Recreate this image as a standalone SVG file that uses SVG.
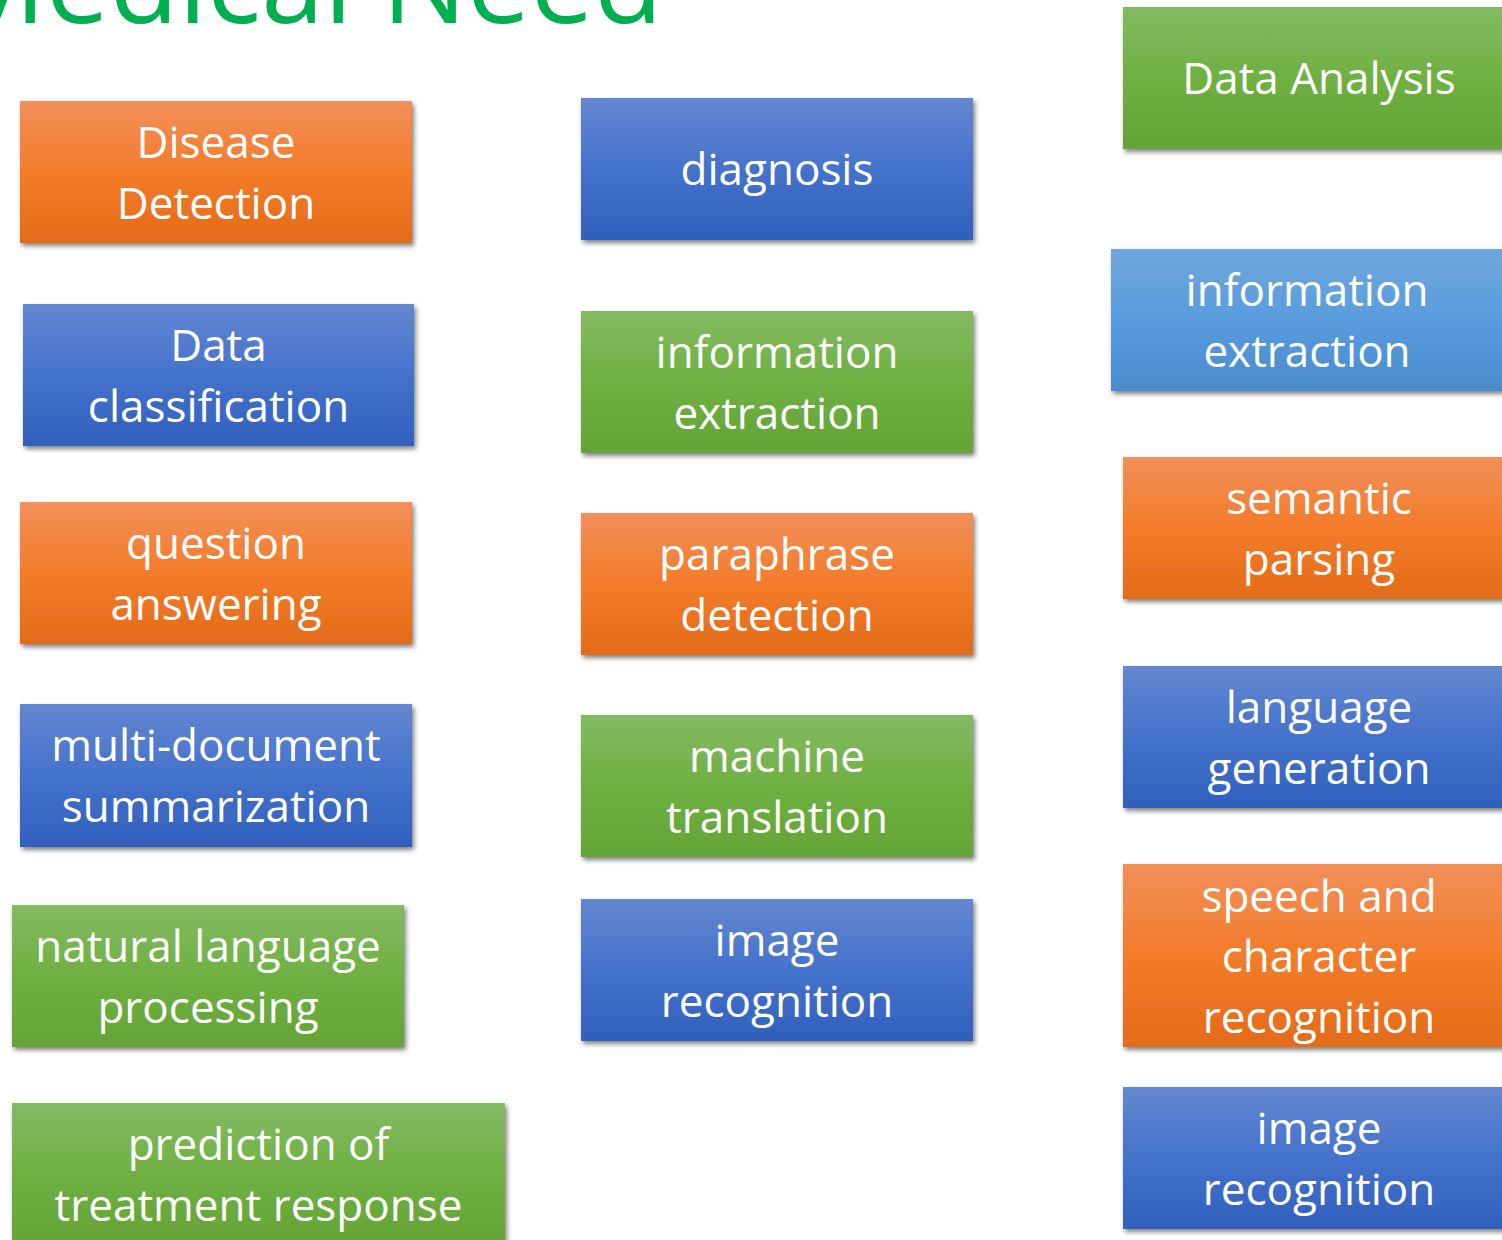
<svg xmlns="http://www.w3.org/2000/svg" width="1502" height="1240" viewBox="0 0 1502 1240">
  <style>
    .title { font-family: "Open Sans", "Liberation Sans", sans-serif; font-size: 113px; fill: #00B050; }
    .box { filter: url(#shadow); }
    .lbl { font-family: "Open Sans", "Liberation Sans", sans-serif; font-size: 44px; fill: #FFFFFF; text-anchor: middle; }
    .orange { fill: url(#gOrange); }
    .blue { fill: url(#gBlue); }
    .green { fill: url(#gGreen); }
    .lblue { fill: url(#gLightBlue); }
  </style>
  <defs>
    <linearGradient id="gOrange" x1="0" y1="0" x2="0" y2="1">
      <stop offset="0" stop-color="#F28F5A"/>
      <stop offset="0.5" stop-color="#F37C2A"/>
      <stop offset="1" stop-color="#E36B19"/>
    </linearGradient>
    <linearGradient id="gBlue" x1="0" y1="0" x2="0" y2="1">
      <stop offset="0" stop-color="#6487D0"/>
      <stop offset="0.5" stop-color="#4472CB"/>
      <stop offset="1" stop-color="#3060BC"/>
    </linearGradient>
    <linearGradient id="gGreen" x1="0" y1="0" x2="0" y2="1">
      <stop offset="0" stop-color="#84BA63"/>
      <stop offset="0.5" stop-color="#6FB042"/>
      <stop offset="1" stop-color="#64A436"/>
    </linearGradient>
    <linearGradient id="gLightBlue" x1="0" y1="0" x2="0" y2="1">
      <stop offset="0" stop-color="#72A7DC"/>
      <stop offset="0.5" stop-color="#589CDE"/>
      <stop offset="1" stop-color="#4A8BCB"/>
    </linearGradient>
    <filter id="shadow" x="-10%" y="-10%" width="120%" height="130%">
      <feDropShadow dx="2" dy="3" stdDeviation="2.5" flood-color="#000000" flood-opacity="0.5"/>
    </filter>
  </defs>

  <!-- heading, partly above the top edge -->
  <text class="title" x="663" y="23" text-anchor="end">Medical Need</text>

  <!-- no connectors between the task boxes -->
  <g id="connectors"/>

  <!-- left column -->
  <g id="disease-detection">
    <rect class="box orange" x="20" y="101" width="392" height="142"/>
    <text class="lbl" x="216" y="158">Disease</text>
    <text class="lbl" x="216" y="219">Detection</text>
  </g>
  <g id="data-classification">
    <rect class="box blue" x="23" y="304" width="391" height="142"/>
    <text class="lbl" x="218.5" y="361">Data</text>
    <text class="lbl" x="218.5" y="422">classification</text>
  </g>
  <g id="question-answering">
    <rect class="box orange" x="20" y="502" width="392" height="142"/>
    <text class="lbl" x="216" y="559">question</text>
    <text class="lbl" x="216" y="620">answering</text>
  </g>
  <g id="multi-document-summarization">
    <rect class="box blue" x="20" y="704" width="392" height="143"/>
    <text class="lbl" x="216" y="761">multi-document</text>
    <text class="lbl" x="216" y="822">summarization</text>
  </g>
  <g id="natural-language-processing">
    <rect class="box green" x="12" y="905" width="392" height="142"/>
    <text class="lbl" x="208" y="962">natural language</text>
    <text class="lbl" x="208" y="1023">processing</text>
  </g>
  <g id="prediction-of-treatment-response">
    <rect class="box green" x="12" y="1103" width="493" height="142"/>
    <text class="lbl" x="258.5" y="1160">prediction of</text>
    <text class="lbl" x="258.5" y="1221">treatment response</text>
  </g>

  <!-- middle column -->
  <g id="diagnosis">
    <rect class="box blue" x="581" y="98" width="392" height="142"/>
    <text class="lbl" x="777" y="185">diagnosis</text>
  </g>
  <g id="information-extraction-mid">
    <rect class="box green" x="581" y="311" width="392" height="142"/>
    <text class="lbl" x="777" y="368">information</text>
    <text class="lbl" x="777" y="429">extraction</text>
  </g>
  <g id="paraphrase-detection">
    <rect class="box orange" x="581" y="513" width="392" height="142"/>
    <text class="lbl" x="777" y="570">paraphrase</text>
    <text class="lbl" x="777" y="631">detection</text>
  </g>
  <g id="machine-translation">
    <rect class="box green" x="581" y="715" width="392" height="142"/>
    <text class="lbl" x="777" y="772">machine</text>
    <text class="lbl" x="777" y="833">translation</text>
  </g>
  <g id="image-recognition-mid">
    <rect class="box blue" x="581" y="899" width="392" height="142"/>
    <text class="lbl" x="777" y="956">image</text>
    <text class="lbl" x="777" y="1017">recognition</text>
  </g>

  <!-- right column, running past the right edge -->
  <g id="data-analysis">
    <rect class="box green" x="1123" y="7" width="392" height="142"/>
    <text class="lbl" x="1319" y="94">Data Analysis</text>
  </g>
  <g id="information-extraction-right">
    <rect class="box lblue" x="1111" y="249" width="392" height="142"/>
    <text class="lbl" x="1307" y="306">information</text>
    <text class="lbl" x="1307" y="367">extraction</text>
  </g>
  <g id="semantic-parsing">
    <rect class="box orange" x="1123" y="457" width="392" height="142"/>
    <text class="lbl" x="1319" y="514">semantic</text>
    <text class="lbl" x="1319" y="575">parsing</text>
  </g>
  <g id="language-generation">
    <rect class="box blue" x="1123" y="666" width="392" height="142"/>
    <text class="lbl" x="1319" y="723">language</text>
    <text class="lbl" x="1319" y="784">generation</text>
  </g>
  <g id="speech-and-character-recognition">
    <rect class="box orange" x="1123" y="864" width="392" height="183"/>
    <text class="lbl" x="1319" y="912">speech and</text>
    <text class="lbl" x="1319" y="972">character</text>
    <text class="lbl" x="1319" y="1033">recognition</text>
  </g>
  <g id="image-recognition-right">
    <rect class="box blue" x="1123" y="1087" width="392" height="142"/>
    <text class="lbl" x="1319" y="1144">image</text>
    <text class="lbl" x="1319" y="1205">recognition</text>
  </g>
</svg>
